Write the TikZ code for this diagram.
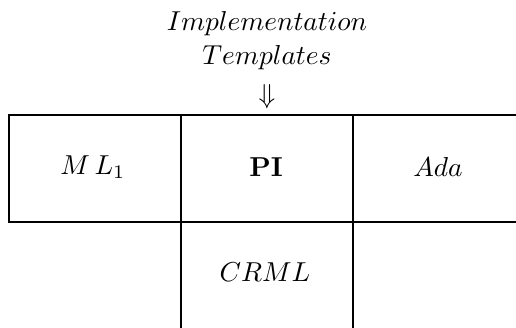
\documentclass[tikz,border=0pt]{standalone}
\begin{document}
\begin{tikzpicture}[x=0.365pt,y=-0.365pt,
  gridline/.style={line width=1pt},
  cell/.style={inner sep=0pt}]
\useasboundingbox (0,0) rectangle (516,328);
% grid
\draw[gridline] (516,115) -- (9,115) -- (9,222) -- (516,222);
\draw[gridline] (181,115) -- (181,328);
\draw[gridline] (353,115) -- (353,328);
% texts
\node[cell] (impl) at (267,24) {$Implementation$};
\node[cell] (tmpl) at (267,58) {$Templates$};
\node[cell] (arr) at (267,97) {$\Downarrow$};
\node[cell] (ml) at (93,167) {$M\,L_1$};
\node[cell] (pi) at (266,167) {$\mathbf{PI}$};
\node[cell] (ada) at (438,167) {$Ada$};
\node[cell] (crml) at (265,272) {$CRML$};
\end{tikzpicture}
\end{document}
